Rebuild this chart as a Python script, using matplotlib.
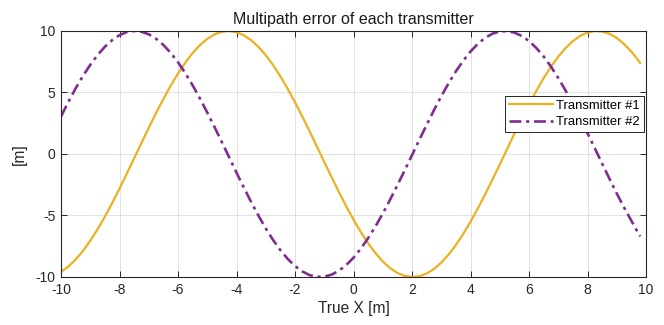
import matplotlib
matplotlib.use("Agg")
import matplotlib.pyplot as plt

plt.rcParams['font.family'] = ['Liberation Sans', 'DejaVu Sans']
plt.rcParams['axes.unicode_minus'] = False

x = [-10.0, -9.75, -9.5, -9.25, -9.0, -8.75, -8.5, -8.25, -8.0, -7.75,
     -7.5, -7.25, -7.0, -6.75, -6.5, -6.25, -6.0, -5.75, -5.5, -5.25,
     -5.0, -4.75, -4.5, -4.25, -4.0, -3.75, -3.5, -3.25, -3.0, -2.75,
     -2.5, -2.25, -2.0, -1.75, -1.5, -1.25, -1.0, -0.75, -0.5, -0.25,
     0.0, 0.25, 0.5, 0.75, 1.0, 1.25, 1.5, 1.75, 2.0, 2.25,
     2.5, 2.75, 3.0, 3.25, 3.5, 3.75, 4.0, 4.25, 4.5, 4.75,
     5.0, 5.25, 5.5, 5.75, 6.0, 6.25, 6.5, 6.75, 7.0, 7.25,
     7.5, 7.75, 8.0, 8.25, 8.5, 8.75, 9.0, 9.25, 9.5, 9.65,
     9.8]

tx1 = [-9.58, -9.15, -8.58, -7.88, -7.05, -6.12, -5.09, -3.98, -2.81, -1.59,
       -0.35, 0.90, 2.13, 3.33, 4.47, 5.55, 6.54, 7.43, 8.21, 8.85,
       9.36, 9.73, 9.94, 10.00, 9.90, 9.65, 9.25, 8.71, 8.03, 7.23,
       6.31, 5.30, 4.20, 3.04, 1.84, 0.60, -0.65, -1.88, -3.09, -4.25,
       -5.34, -6.35, -7.26, -8.06, -8.74, -9.28, -9.67, -9.91, -10.00, -9.94,
       -9.72, -9.35, -8.83, -8.18, -7.40, -6.51, -5.51, -4.43, -3.28, -2.08,
       -0.85, 0.40, 1.64, 2.85, 4.02, 5.13, 6.16, 7.09, 7.91, 8.61,
       9.18, 9.60, 9.87, 9.99, 9.96, 9.77, 9.43, 8.94, 8.32, 7.88,
       7.40]

tx2 = [3.05, 4.23, 5.34, 6.34, 7.25, 8.05, 8.72, 9.26, 9.66, 9.91,
       10.00, 9.94, 9.73, 9.37, 8.86, 8.22, 7.45, 6.57, 5.58, 4.51,
       3.37, 2.18, 0.96, -0.28, -1.52, -2.73, -3.90, -5.01, -6.05, -6.99,
       -7.82, -8.53, -9.11, -9.55, -9.85, -9.99, -9.97, -9.81, -9.49, -9.03,
       -8.43, -7.69, -6.84, -5.89, -4.84, -3.72, -2.54, -1.33, -0.09, 1.15,
       2.37, 3.56, 4.69, 5.75, 6.72, 7.58, 8.33, 8.95, 9.44, 9.78,
       9.96, 9.99, 9.87, 9.60, 9.18, 8.62, 7.93, 7.11, 6.18, 5.16,
       4.06, 2.90, 1.69, 0.46, -0.78, -2.01, -3.21, -4.35, -5.43, -6.08,
       -6.70]

labels = ['Transmitter #1', 'Transmitter #2']
xticks = [-10, -8, -6, -4, -2, 0, 2, 4, 6, 8, 10]
yticks = [-10, -5, 0, 5, 10]

fig = plt.figure(figsize=(6.64, 3.25), dpi=100)
ax = fig.add_axes([0.0919, 0.1477, 0.881, 0.757])

ax.plot(x, tx1, color='#EDB120', lw=1.6, label=labels[0])
ax.plot(x, tx2, color='#7E2F8E', lw=1.9, ls=(0, (4.5, 1.8, 1.2, 1.8)), label=labels[1])

ax.set_xlim(-10, 10)
ax.set_ylim(-10, 10)
ax.set_xticks(xticks)
ax.set_yticks(yticks)
ax.grid(True, color='#DCDCDC', lw=0.6)
ax.set_axisbelow(True)
ax.tick_params(direction='in', top=True, right=True, labelsize=10,
               colors='#262626', length=4, width=0.7, pad=4)
for s in ax.spines.values():
    s.set_color('#262626')
    s.set_linewidth(0.8)

ax.set_title('Multipath error of each transmitter', fontsize=11.5, color='#1a1a1a', pad=5)
ax.set_xlabel('True X [m]', fontsize=11.2, color='#262626', labelpad=3)
ax.set_ylabel('[m]', fontsize=11.2, color='#262626', labelpad=6)

leg = ax.legend(loc='upper right', bbox_to_anchor=(0.9966, 0.737), borderaxespad=0,
                fontsize=9.4, frameon=True, fancybox=False, framealpha=1,
                edgecolor='#262626', handlelength=3.4, handletextpad=0.25,
                borderpad=0.3, labelspacing=0.35)
leg.get_frame().set_linewidth(0.7)

fig.savefig('out.png', dpi=100)
